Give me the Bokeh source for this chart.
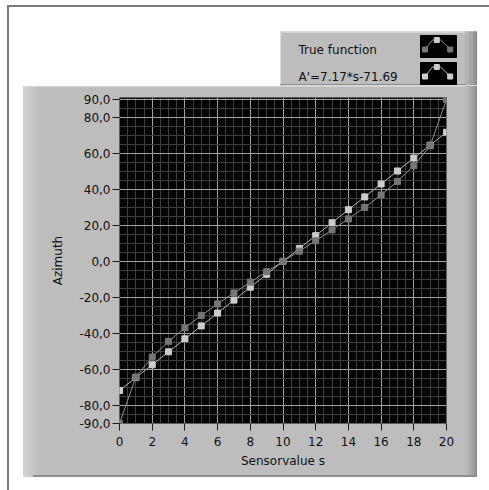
from bokeh.plotting import figure
from bokeh.layouts import column, row
from bokeh.models import FixedTicker, Spacer
from bokeh.core.properties import value
from bokeh.embed import file_html
from bokeh.resources import INLINE

# ---------------- data ----------------
sensor_s = [0, 1, 2, 3, 4, 5, 6, 7, 8, 9, 10, 11, 12, 13, 14, 15, 16, 17, 18, 19, 20]
true_function = [-90.0, -64.2, -53.1, -44.4, -36.9, -30.0, -23.6, -17.5, -11.5, -5.7, 0.0,
                 5.7, 11.5, 17.5, 23.6, 30.0, 36.9, 44.4, 53.1, 64.2, 90.0]
linear_fit = [-71.7, -64.5, -57.4, -50.2, -43.0, -35.8, -28.7, -21.5, -14.3, -7.2, 0.0,
              7.2, 14.3, 21.5, 28.7, 35.8, 43.0, 50.2, 57.4, 64.5, 71.7]
legend_labels = ["True function", "A'=7.17*s-71.69"]
x_ticks = [0, 2, 4, 6, 8, 10, 12, 14, 16, 18, 20]
x_minor_ticks = [i * 0.5 for i in range(41)]
y_ticks = [-90, -80, -60, -40, -20, 0, 20, 40, 60, 80, 90]
y_tick_labels = ["-90,0", "-80,0", "-60,0", "-40,0", "-20,0", "0,0",
                 "20,0", "40,0", "60,0", "80,0", "90,0"]
y_minor_ticks = list(range(-90, 91, 5))

FONT = "DejaVu Sans"
PANEL = "#bdbdbd"
TRUE_MARK, TRUE_LINE = "#767676", "#8f8f8f"
FIT_MARK, FIT_LINE = "#cdcdcd", "#b4b4b4"

# ---------------- main chart panel (page x 23..477, y 86..477) ----------------
panel_css = {
    "background": (
        "linear-gradient(#8e8e8e, #8e8e8e) 10px 389px / 444px 2px no-repeat, "
        "linear-gradient(#d4d4d4, #d4d4d4) 0px 0px / 442px 1px no-repeat, "
        "linear-gradient(to right, #d2d2d2 0px, #c9c9c9 8px, #bdbdbd 16px, #bdbdbd 442px, "
        "#b0b0b0 446px, #a2a2a2 450px, #929292 453px, #7e7e7e 454px)"
    )
}
p = figure(width=454, height=391, x_range=(0, 20), y_range=(-90, 91),
           output_backend="svg", toolbar_location=None,
           min_border_left=96, min_border_right=31, min_border_top=11, min_border_bottom=54,
           background_fill_color="#050505", border_fill_color=None,
           outline_line_color=None, styles=panel_css)

xt = FixedTicker(ticks=x_ticks, minor_ticks=x_minor_ticks)
yt = FixedTicker(ticks=y_ticks, minor_ticks=y_minor_ticks)
p.xaxis.ticker = xt
p.yaxis.ticker = yt
p.xgrid.ticker = xt
p.ygrid.ticker = yt
for g in (p.xgrid[0], p.ygrid[0]):
    g.grid_line_color = "#a2a2a2"
    g.grid_line_width = 1
    g.minor_grid_line_color = "#3e3e3e"
    g.minor_grid_line_width = 1

for ax in (p.xaxis[0], p.yaxis[0]):
    ax.axis_line_color = None
    ax.major_tick_line_color = "#1a1a1a"
    ax.major_tick_in = 0
    ax.major_tick_out = 7
    ax.minor_tick_line_color = None
    ax.major_label_text_font = FONT
    ax.major_label_text_font_size = "12px"
    ax.major_label_text_color = "#111111"
    ax.axis_label_text_font = FONT
    ax.axis_label_text_font_size = "12px"
    ax.axis_label_text_font_style = "normal"
    ax.axis_label_text_color = "#111111"

p.xaxis.axis_label = "Sensorvalue s"
p.yaxis.axis_label = "Azimuth"
p.yaxis.major_label_overrides = dict(zip(y_ticks, y_tick_labels))
p.yaxis.major_label_standoff = 2
p.yaxis.axis_label_standoff = 11
p.xaxis.major_label_standoff = 6
p.xaxis.axis_label_standoff = 5

p.line(sensor_s, linear_fit, line_color=FIT_LINE, line_width=1)
p.scatter(sensor_s, linear_fit, marker="square", size=6, fill_color=FIT_MARK, line_color=FIT_MARK)
p.line(sensor_s, true_function, line_color=TRUE_LINE, line_width=1)
p.scatter(sensor_s, true_function, marker="square", size=6, fill_color=TRUE_MARK, line_color=TRUE_MARK)

# ---------------- legend panel (page x 280..477, y 31..86), pixel coordinates ----------------
lg = figure(width=197, height=55, x_range=(0, 197), y_range=(55, 0),
            x_axis_type=None, y_axis_type=None, title=None,
            output_backend="svg", toolbar_location=None,
            min_border=0, min_border_left=0, min_border_right=0, min_border_top=0, min_border_bottom=0,
            background_fill_color=PANEL, border_fill_color=PANEL, outline_line_color=None)
lg.grid.visible = False
# bevel strips
lg.quad(left=[0, 0, 0, 185, 189, 193, 196], right=[185, 197, 197, 189, 193, 196, 197],
        top=[0, 53, 54, 0, 0, 0, 0], bottom=[1, 54, 55, 53, 53, 53, 53],
        color=["#d4d4d4", "#8e8e8e", "#d8d8d8", "#b3b3b3", "#a6a6a6", "#969696", "#7e7e7e"])
icon_marks = [(TRUE_MARK, FIT_MARK, TRUE_MARK, TRUE_LINE), (FIT_MARK, FIT_MARK, FIT_MARK, FIT_LINE)]
for i, (cl, ct, cr, cline) in enumerate(icon_marks):
    dy = 27 * i
    lg.quad(left=140, right=176, top=4 + dy, bottom=26 + dy, color="#000000")
    lg.line([144.5, 152, 160, 170], [18 + dy, 8.5 + dy, 8.5 + dy, 18 + dy], line_color=cline, line_width=1)
    lg.scatter([144.5, 156.3, 169.7], [18 + dy, 8.5 + dy, 18 + dy], marker="square", size=5,
               fill_color=[cl, ct, cr], line_color=[cl, ct, cr])
lg.text(x=[18, 18], y=[18.5, 45.5], text=legend_labels, text_baseline="alphabetic",
        text_align="left", text_font=value(FONT), text_font_size="12px", text_color="#111111")

# ---------------- page layout with window frame lines ----------------
frame_css = {
    "background": (
        "linear-gradient(#7b7b7b, #7b7b7b) 7px 5px / 482px 2px no-repeat, "
        "linear-gradient(#7b7b7b, #7b7b7b) 7px 5px / 2px 485px no-repeat, #ffffff"
    )
}
page = column(
    Spacer(width=489, height=31),
    row(Spacer(width=280, height=55), lg),
    row(Spacer(width=23, height=391), p),
    Spacer(width=489, height=13),
    styles=frame_css,
)

open("out.html", "w").write(file_html(page, INLINE))
